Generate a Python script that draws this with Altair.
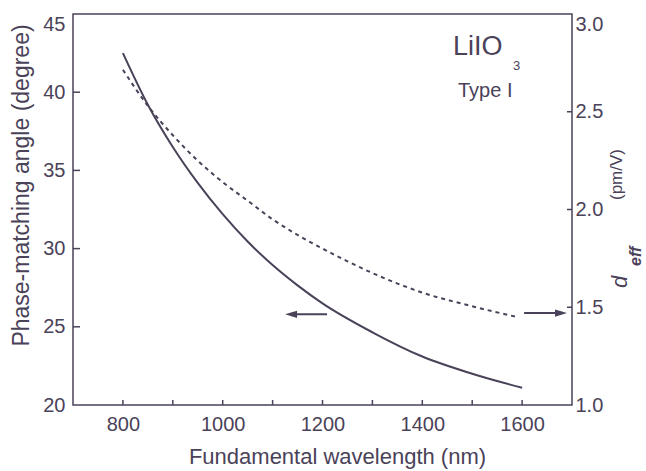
import altair as alt
import pandas as pd

# Phase-matching angle (solid curve), degrees
wl_angle = [800, 850, 900, 950, 1000, 1050, 1100, 1150, 1200, 1300, 1400, 1500, 1600]
angle_deg = [42.5, 39.2, 36.5, 34.2, 32.2, 30.45, 28.95, 27.65, 26.5, 24.65, 23.1, 22.0, 21.1]

# Effective nonlinear coefficient (dashed curve), pm/V
wl_deff = [800, 850, 900, 950, 1000, 1050, 1100, 1150, 1200, 1250, 1300, 1400, 1500, 1590]
deff_pmv = [2.715, 2.53, 2.38, 2.25, 2.14, 2.045, 1.95, 1.87, 1.80, 1.735, 1.675, 1.575, 1.505, 1.45]

# Axis ticks
x_ticks = [800, 900, 1000, 1100, 1200, 1300, 1400, 1500, 1600]
x_labels = [800, 1000, 1200, 1400, 1600]
angle_ticks = [20, 25, 30, 35, 40, 45]
deff_ticks = [1.0, 1.5, 2.0, 2.5, 3.0]

# Arrows pointing each curve to its axis
left_arrow_wl = [1137, 1209]
left_arrow_angle = 25.8
right_arrow_wl = [1604, 1678]
right_arrow_deff = 1.47

INK = "#4a4259"
FONT = "Liberation Sans"
W, H = 499, 391

x_scale = alt.Scale(domain=[700, 1700], nice=False, zero=False)
a_scale = alt.Scale(domain=[20, 45], nice=False, zero=False)
d_scale = alt.Scale(domain=[1.0, 3.0], nice=False, zero=False)

# Same x axis on every layer so the shared axis merges cleanly
x_axis = alt.Axis(values=x_labels, format="d", title="Fundamental wavelength (nm)",
                  labelPadding=9, titleFontSize=22,
                  titleX=264, titleY=58, titleBaseline="alphabetic")
X = alt.X("wl:Q", scale=x_scale, axis=x_axis)

# Top labels hang below the corner of the frame
top_base = {"condition": {"test": "datum.value == 45 || datum.value == 3", "value": "top"},
            "value": "middle"}

angle_df = pd.DataFrame({"wl": wl_angle, "angle": angle_deg})
deff_df = pd.DataFrame({"wl": wl_deff, "d": deff_pmv})

solid = alt.Chart(angle_df).mark_line(color=INK, strokeWidth=2, interpolate="monotone").encode(
    x=X,
    y=alt.Y("angle:Q", scale=a_scale, axis=alt.Axis(
        orient="left", values=angle_ticks, title="Phase-matching angle (degree)",
        labelPadding=8, labelBaseline=top_base,
        titleX=-45, titleY=171, titleBaseline="alphabetic", titleAngle=270)),
)

dashed = alt.Chart(deff_df).mark_line(color=INK, strokeWidth=2, strokeDash=[4, 4],
                                      interpolate="monotone").encode(
    x=X,
    y=alt.Y("d:Q", scale=d_scale, axis=alt.Axis(
        orient="right", values=deff_ticks, format=".1f", title=None,
        labelPadding=3, labelBaseline=top_base)),
)

# Inward tick marks along the frame
xt = alt.Chart(pd.DataFrame({"wl": x_ticks})).mark_rule(color=INK, strokeWidth=1.5).encode(
    x=X, y=alt.value(H), y2=alt.value(H - 5),
)
at = alt.Chart(pd.DataFrame({"angle": angle_ticks[1:-1]})).mark_rule(color=INK, strokeWidth=1.5).encode(
    y=alt.Y("angle:Q", scale=a_scale, axis=None),
    x=alt.value(0), x2=alt.value(7),
)
dt = alt.Chart(pd.DataFrame({"d": deff_ticks[1:-1]})).mark_rule(color=INK, strokeWidth=1.5).encode(
    y=alt.Y("d:Q", scale=d_scale, axis=None),
    x=alt.value(W - 5), x2=alt.value(W),
)

# Arrows
la_line = alt.Chart(pd.DataFrame({"wl": left_arrow_wl, "angle": [left_arrow_angle] * 2})).mark_line(
    color=INK, strokeWidth=2).encode(
    x=X, y=alt.Y("angle:Q", scale=a_scale, axis=None),
)
la_head = alt.Chart(pd.DataFrame({"wl": [left_arrow_wl[0]], "angle": [left_arrow_angle]})).mark_point(
    shape="M1,-0.6L-1,0L1,0.6Z", filled=True, opacity=1, size=144, color=INK).encode(
    x=X, y=alt.Y("angle:Q", scale=a_scale, axis=None),
)
ra_line = alt.Chart(pd.DataFrame({"wl": right_arrow_wl, "d": [right_arrow_deff] * 2})).mark_line(
    color=INK, strokeWidth=2).encode(
    x=X, y=alt.Y("d:Q", scale=d_scale, axis=None),
)
ra_head = alt.Chart(pd.DataFrame({"wl": [right_arrow_wl[1]], "d": [right_arrow_deff]})).mark_point(
    shape="M-1,-0.6L1,0L-1,0.6Z", filled=True, opacity=1, size=144, color=INK).encode(
    x=X, y=alt.Y("d:Q", scale=d_scale, axis=None),
)


def label(text, x, y, size, **kw):
    return alt.Chart(pd.DataFrame({"t": [text]})).mark_text(
        font=FONT, fontSize=size, color=INK, align="left", baseline="alphabetic", **kw
    ).encode(text="t:N", x=alt.value(x), y=alt.value(y))


label_main = label("LiIO", 380, 41, 27)
label_sub = label("3", 440, 56, 13)
label_type = label("Type I", 385, 83, 20)

# Right-hand axis title: italic d with subscript "eff", then the unit
t_d = label("d", 554, 274, 22, fontStyle="italic", angle=270)
t_eff = label("eff", 568, 252, 16, fontStyle="italic", fontWeight="bold", angle=270)
t_unit = label("(pm/V)", 549, 186, 17, angle=270)

chart = alt.layer(
    solid, dashed, xt, at, dt, la_line, la_head, ra_line, ra_head,
    label_main, label_sub, label_type, t_d, t_eff, t_unit,
).resolve_scale(y="independent").properties(
    width=W, height=H,
    padding={"left": 73, "top": 14, "right": 646 - 73 - W, "bottom": 471 - 14 - H},
    autosize=alt.AutoSizeParams(type="none"),
    background="white",
).configure_view(
    stroke=INK, strokeWidth=1.5,
).configure_axis(
    domain=False, ticks=False, grid=False,
    labelFont=FONT, labelFontSize=20, labelColor=INK,
    titleFont=FONT, titleFontSize=23, titleColor=INK, titleFontWeight="normal",
)

chart.save("out.html", embed_options={"renderer": "svg", "actions": False})
